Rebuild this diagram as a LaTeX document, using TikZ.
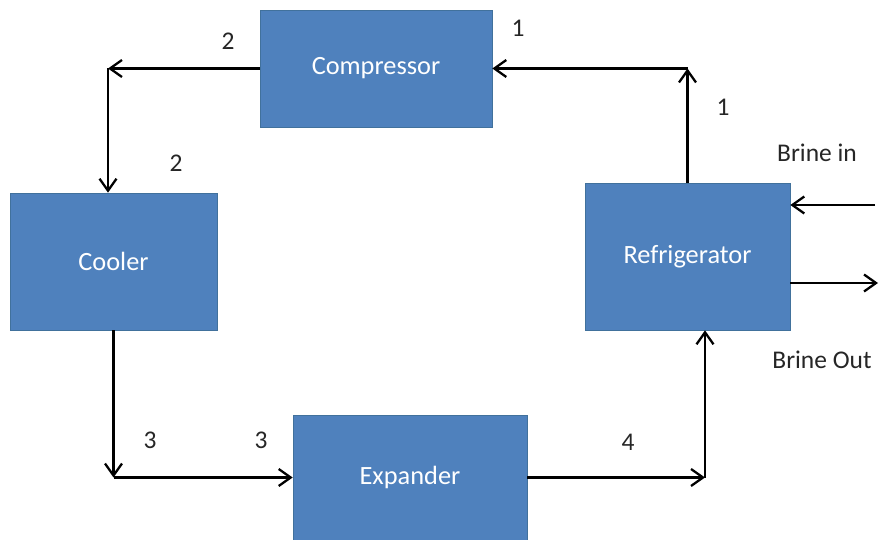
\documentclass[tikz,border=0pt]{standalone}
\usepackage{fontspec}
\setmainfont{Carlito}
\usepackage{xcolor}
\usepackage{tikz}
\usetikzlibrary{arrows.meta, positioning}
\definecolor{boxblue}{HTML}{4F81BD}
\definecolor{boxedge}{HTML}{41719C}

\begin{document}
\begin{tikzpicture}[
    x=0.02cm, y=-0.02cm,
    block/.style={rectangle, draw=boxedge, fill=boxblue, text=white, inner sep=0pt,
                  font=\fontsize{15}{17}\selectfont},
    arrow/.style={-{Straight Barb[length=2.4mm, width=3.4mm]}, line width=1.3pt},
    lbl/.style={font=\fontsize{14.5}{17}\selectfont, text=black!85},
]
    \useasboundingbox (0,0) rectangle (882,540);

    % Components
    \node[block, minimum width=4.64cm, minimum height=2.34cm] (comp) at (376,68.5) {Compressor};
    \node[block, minimum width=4.14cm, minimum height=2.74cm] (cooler) at (113.5,261.5) {Cooler};
    \node[block, minimum width=4.1cm, minimum height=2.94cm] (refr) at (687.5,256.5) {Refrigerator};
    \node[block, minimum width=4.68cm, minimum height=2.5cm] (exp) at (410,477.5) {Expander};

    % Corners
    \coordinate (c2) at (108,68.5);
    \coordinate (c1) at (refr.north |- comp.east);
    \coordinate (c3) at (cooler.south |- exp.west);
    \coordinate (c4) at (705,477.5);
    \coordinate (brinein) at (875,205);
    \coordinate (brineout) at (878,283);

    % Arrows
    \draw[arrow] (comp.west) -- (c2);
    \draw[arrow] (c2) -- (c2 |- cooler.north);
    \draw[arrow] (cooler.south) -- (c3);
    \draw[arrow] (c3) -- (exp.west);
    \draw[arrow] (exp.east) -- (c4);
    \draw[arrow] (c4) -- (c4 |- refr.south);
    \draw[arrow] (refr.north) -- (c1);
    \draw[arrow] (c1) -- (comp.east);
    \draw[arrow] (brinein) -- (refr.east |- brinein);
    \draw[arrow] (refr.east |- brineout) -- (brineout);

    % State labels
    \node[lbl] (s2a) at (228,41) {2};
    \node[lbl] (s2b) at (176,163) {2};
    \node[lbl] (s1a) at (518,28) {1};
    \node[lbl] (s1b) at (723,107) {1};
    \node[lbl] (s3a) at (150,440) {3};
    \node[lbl] (s3b) at (261,440) {3};
    \node[lbl] (s4) at (628,442) {4};
    \node[lbl] (bin) at (817,153) {Brine in};
    \node[lbl] (bout) at (822,360) {Brine Out};
\end{tikzpicture}
\end{document}
